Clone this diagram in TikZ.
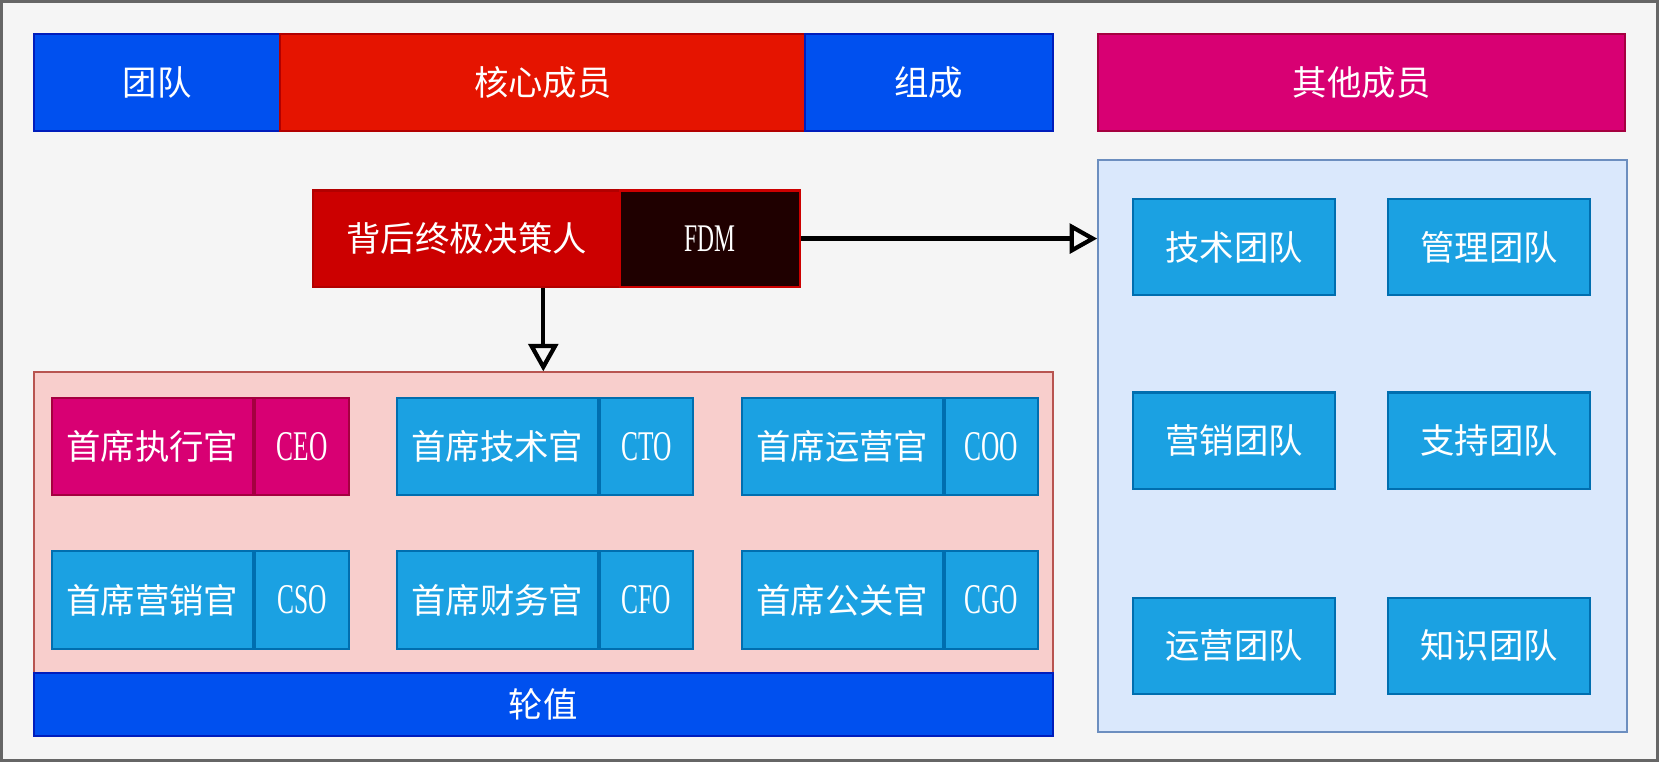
\documentclass[tikz,border=0pt]{standalone}
\usepackage{fontspec}
\setmainfont{Noto Sans CJK SC}
\newfontfamily\latinfont[FakeStretch=0.6]{Liberation Serif}
\usepackage{tikz}
\usetikzlibrary{arrows.meta}

\definecolor{bgc}{HTML}{F5F5F5}
\definecolor{blueF}{HTML}{0050EF}
\definecolor{blueD}{HTML}{001DBC}
\definecolor{redF}{HTML}{E51400}
\definecolor{redD}{HTML}{B20000}
\definecolor{magF}{HTML}{D80073}
\definecolor{magD}{HTML}{A50040}
\definecolor{decF}{HTML}{CC0000}
\definecolor{fdmF}{HTML}{1F0000}
\definecolor{pinkF}{HTML}{F8CECC}
\definecolor{pinkD}{HTML}{B85450}
\definecolor{paleF}{HTML}{DAE8FC}
\definecolor{paleD}{HTML}{6C8EBF}
\definecolor{cyanF}{HTML}{1BA1E2}
\definecolor{cyanD}{HTML}{006EAF}

\tikzset{
  box/.style={rectangle, inner sep=0pt, line width=2pt, text=white,
    font=\fontsize{32.5}{38}\selectfont},
  bluebar/.style={box, fill=blueF, draw=blueD},
  redbar/.style={box, fill=redF, draw=redD},
  magbar/.style={box, fill=magF, draw=magD},
  cyanbox/.style={box, fill=cyanF, draw=cyanD},
  abbr/.style={font=\fontsize{40}{44}\latinfont},
  arr/.style={line width=4pt, -{Triangle[open, length=26pt, width=28pt]}}
}

\begin{document}
\begin{tikzpicture}[x=1pt, y=-1pt]
\draw[fill=bgc, draw=gray!120, line width=2.5pt] (1.25,1.25) rectangle (1566.75,718.75);
\useasboundingbox (0,0) rectangle (1568,720);

% top row
\node[bluebar, minimum width=233pt, minimum height=92pt] (team) at (148.5,78) {团队};
\node[redbar, minimum width=496pt, minimum height=92pt] (core) at (513,78) {核心成员};
\node[bluebar, minimum width=234pt, minimum height=92pt] (comp) at (878,78) {组成};
\node[magbar, minimum width=498pt, minimum height=92pt] (other) at (1287,78) {其他成员};

% decision maker
\node[box, fill=decF, draw=redD, minimum width=290pt, minimum height=91pt] (dec) at (441,225.5) {背后终极决策人};
\node[box, fill=fdmF, draw=decF, minimum width=170pt, minimum height=91pt, font=\fontsize{37}{42}\latinfont] (fdm) at (671,225.5) {FDM};

% panels
\node[rectangle, fill=pinkF, draw=pinkD, line width=2pt, minimum width=963pt, minimum height=284pt] (core panel) at (513.5,494) {};
\node[bluebar, minimum width=963pt, minimum height=60pt] (rot) at (513.5,666) {轮值};
\node[rectangle, fill=paleF, draw=paleD, line width=2pt, minimum width=500pt, minimum height=541pt] (team panel) at (1288,421.5) {};

% chiefs
\node[magbar, anchor=west, minimum width=190pt, minimum height=92pt] (ceo) at (48,422) {首席执行官};
\node[magbar, anchor=west, minimum width=89pt, minimum height=92pt, abbr] (ceo abbr) at (ceo.east) {CEO};
\node[cyanbox, anchor=west, minimum width=190pt, minimum height=92pt] (cto) at (374,422) {首席技术官};
\node[cyanbox, anchor=west, minimum width=88pt, minimum height=92pt, abbr] (cto abbr) at (cto.east) {CTO};
\node[cyanbox, anchor=west, minimum width=190pt, minimum height=92pt] (coo) at (700,422) {首席运营官};
\node[cyanbox, anchor=west, minimum width=88pt, minimum height=92pt, abbr] (coo abbr) at (coo.east) {COO};
\node[cyanbox, anchor=west, minimum width=190pt, minimum height=92pt] (cso) at (48,567) {首席营销官};
\node[cyanbox, anchor=west, minimum width=89pt, minimum height=92pt, abbr] (cso abbr) at (cso.east) {CSO};
\node[cyanbox, anchor=west, minimum width=190pt, minimum height=92pt] (cfo) at (374,567) {首席财务官};
\node[cyanbox, anchor=west, minimum width=88pt, minimum height=92pt, abbr] (cfo abbr) at (cfo.east) {CFO};
\node[cyanbox, anchor=west, minimum width=190pt, minimum height=92pt] (cgo) at (700,567) {首席公关官};
\node[cyanbox, anchor=west, minimum width=88pt, minimum height=92pt, abbr] (cgo abbr) at (cgo.east) {CGO};

% teams
\node[cyanbox, minimum width=191pt, minimum height=91pt] (tech) at (1166.5,233.5) {技术团队};
\node[cyanbox, minimum width=191pt, minimum height=91pt] (mgmt) at (1407.5,233.5) {管理团队};
\node[cyanbox, minimum width=191pt, minimum height=91pt] (mkt) at (1166.5,416.5) {营销团队};
\node[cyanbox, minimum width=191pt, minimum height=91pt] (supp) at (1407.5,416.5) {支持团队};
\node[cyanbox, minimum width=191pt, minimum height=91pt] (ops) at (1166.5,610.5) {运营团队};
\node[cyanbox, minimum width=191pt, minimum height=91pt] (know) at (1407.5,610.5) {知识团队};

% arrows
\draw[arr] (fdm.east) -- (team panel.west |- fdm.east);
\draw[arr] (core panel.north |- dec.south) -- (core panel.north);
\end{tikzpicture}
\end{document}
